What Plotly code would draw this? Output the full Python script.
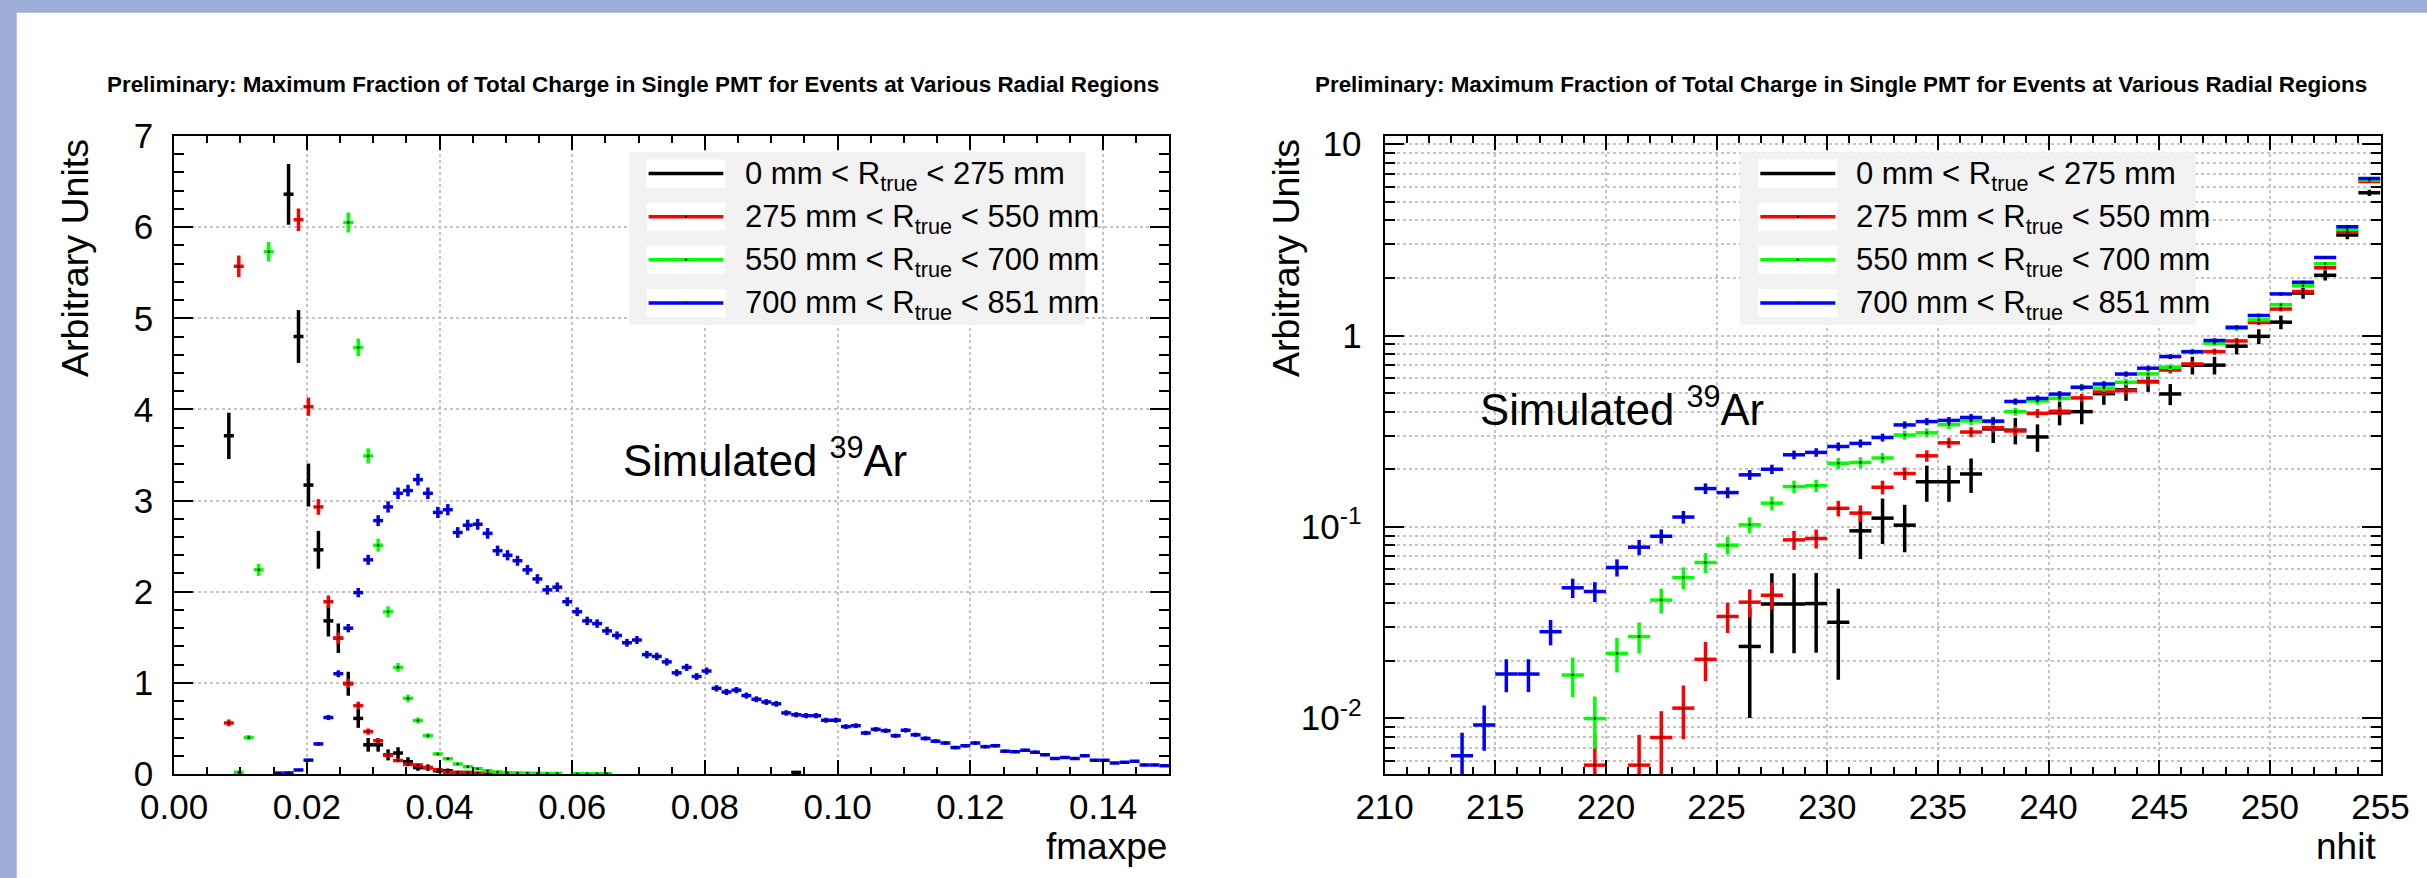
import math
import plotly.graph_objects as go

W, H = 2427, 878
FONT = "Liberation Sans"

# ---------------- data ----------------
series_names = ["black", "red", "green", "blue"]
series_colors = ["#000000", "#ff0000", "#00ff00", "#0000ff"]
radial_lo = [0, 275, 550, 700]
radial_hi = [275, 550, 700, 851]

# Left panel: fmaxpe, 100 bins of width 0.0015 on [0, 0.15]
fmaxpe_bin_width = 0.0015
fmaxpe_centers = [round(0.00075 + fmaxpe_bin_width * i, 5) for i in range(100)]
N = None  # empty bin, or bin above the 0-7 frame

fmaxpe_black = ([N] * 5 + [3.71] + [N] * 5 +
                [6.36, 4.80, 3.17, 2.46, 1.68, 1.49, 0.99, 0.61, 0.32, 0.32,
                 0.21, 0.23, 0.135, 0.07, 0.07, 0.036, 0.035, 0.017, 0.017] +
                [N] * 32 + [0.017] + [N] * 37)
fmaxpe_red = ([N] * 5 + [0.56, 5.57] + [N] * 5 +
              [6.08, 4.03, 2.93, 1.89, 1.49, 0.995, 0.75, 0.465, 0.365, 0.205,
               0.148, 0.105, 0.099, 0.07, 0.048, 0.02, 0.016, 0.013, 0.01, 0.008,
               0.006, 0.004] + [N] * 66)
fmaxpe_green = ([N] * 6 + [0.02, 0.40, 2.24, 5.73] + [N] * 7 +
                [6.05, 4.68, 3.49, 2.51, 1.78, 1.17, 0.83, 0.587, 0.42, 0.22,
                 0.168, 0.11, 0.08, 0.058, 0.036, 0.022, 0.015, 0.012, 0.01, 0.008,
                 0.006, 0.006, N, 0.004, 0.004, 0.004, 0.004] + [N] * 56)
fmaxpe_blue = ([N] * 10 +
               [0.01, 0.012, 0.044, 0.152, 0.33, 0.62, 1.10, 1.60, 1.99, 2.35,
                2.78, 2.93, 3.08, 3.11, 3.23, 3.08, 2.87, 2.90, 2.65, 2.73,
                2.74, 2.64, 2.45, 2.40, 2.34, 2.24, 2.14, 2.02, 2.05, 1.89,
                1.78, 1.68, 1.65, 1.57, 1.52, 1.44, 1.47, 1.31, 1.29, 1.23,
                1.11, 1.17, 1.07, 1.13, 0.94, 0.90, 0.92, 0.86, 0.82, 0.79,
                0.77, 0.67, 0.65, 0.64, 0.64, 0.59, 0.59, 0.52, 0.53, 0.45,
                0.49, 0.475, 0.42, 0.48, 0.43, 0.39, 0.36, 0.34, 0.29, 0.31,
                0.34, 0.30, 0.31, 0.25, 0.245, 0.26, 0.24, 0.21, 0.17, 0.18,
                0.17, 0.20, 0.15, 0.15, 0.12, 0.13, 0.14, 0.10, 0.10, 0.09])
# Poisson weight (units per count) read from the error-bar lengths
fmaxpe_weight = [0.0175, 0.0025, 0.002, 0.0013]

# Right panel: nhit, 45 bins of width 1 on [210, 255]
nhit_bin_width = 1
nhit_centers = [210.5 + i for i in range(45)]
nhit_black = ([N] * 16 +
              [0.0237, 0.0395, 0.0395, 0.0397, 0.0317, 0.0953, 0.111, 0.102, 0.172, 0.172,
               0.189, 0.325, 0.32, 0.295, 0.395, 0.40, 0.497, 0.52, 0.575, 0.495,
               0.70, 0.70, 0.88, 0.99, 1.175, 1.67, 2.065, 3.35, 5.58])
nhit_red = ([N] * 9 + [0.00568, N, 0.00568, 0.00792, 0.01128, 0.0203, 0.0340, 0.0404,
                      0.0439, 0.0855, 0.0869, 0.125, 0.118, 0.161, 0.190, 0.235, 0.275,
                      0.313, 0.33, 0.317, 0.392, 0.402, 0.472, 0.507, 0.515, 0.572, 0.66,
                      0.71, 0.824, 0.937, 1.17, 1.375, 1.70, 2.26, 3.49, 6.38])
nhit_green = ([N] * 8 + [0.0168, 0.00995, 0.0218, 0.0267, 0.0414, 0.0543, 0.0651, 0.0802,
                         0.1024, 0.133, 0.1623, 0.164, 0.215, 0.217, 0.229, 0.302, 0.31,
                         0.342, 0.358, 0.355, 0.40, 0.455, 0.47, 0.537, 0.531, 0.57, 0.63,
                         0.683, 0.825, 0.912, 1.09, 1.207, 1.45, 1.82, 2.37, 3.58, 6.5])
nhit_blue = ([N] * 3 + [0.00635, 0.0092, 0.0170, 0.0170, 0.0283, 0.0480, 0.0459, 0.0613,
                        0.0783, 0.0893, 0.1125, 0.1585, 0.151, 0.187, 0.200, 0.238, 0.245,
                        0.263, 0.273, 0.293, 0.341, 0.355, 0.36, 0.373, 0.357, 0.452, 0.469,
                        0.494, 0.536, 0.558, 0.629, 0.675, 0.776, 0.822, 0.942, 1.105,
                        1.273, 1.65, 1.90, 2.56, 3.70, 6.62])
nhit_weight = [0.0079, 0.0011, 0.00092, 0.00065]

title_text = ("Preliminary: Maximum Fraction of Total Charge in Single PMT "
              "for Events at Various Radial Regions")
left_xtitle = "fmaxpe"
right_xtitle = "nhit"
ytitle = "Arbitrary Units"

# ---------------- helpers ----------------
def P(x):
    return x / W


def Q(y):
    return 1 - y / H


def errs(vals, w):
    return [None if v is None else math.sqrt(v * w) for v in vals]


fig = go.Figure()

left_vals = [fmaxpe_black, fmaxpe_red, fmaxpe_green, fmaxpe_blue]
right_vals = [nhit_black, nhit_red, nhit_green, nhit_blue]

for k in range(4):
    col = series_colors[k]
    fig.add_trace(go.Scatter(
        x=fmaxpe_centers, y=left_vals[k], mode="markers", name=series_names[k],
        marker=dict(size=2.5, color="black"),
        error_y=dict(type="data", array=errs(left_vals[k], fmaxpe_weight[k]),
                     symmetric=True, color=col, thickness=3.5, width=0),
        error_x=dict(type="constant", value=fmaxpe_bin_width / 2, color=col,
                     thickness=3.5, width=0),
        xaxis="x", yaxis="y", showlegend=False, hoverinfo="skip"))
for k in range(4):
    col = series_colors[k]
    fig.add_trace(go.Scatter(
        x=nhit_centers, y=right_vals[k], mode="markers", name=series_names[k],
        marker=dict(size=2.5, color="black"),
        error_y=dict(type="data", array=errs(right_vals[k], nhit_weight[k]),
                     symmetric=True, color=col, thickness=3.5, width=0),
        error_x=dict(type="constant", value=nhit_bin_width / 2, color=col,
                     thickness=3.5, width=0),
        xaxis="x2", yaxis="y2", showlegend=False, hoverinfo="skip"))

GRID = "#c4c4c4"
common = dict(showline=True, linewidth=2, linecolor="black", mirror="ticks",
              ticks="inside", tickwidth=2, tickcolor="black", automargin=False,
              showgrid=True, gridcolor=GRID, gridwidth=1.5, griddash="dot",
              zeroline=False, tickfont=dict(family=FONT, size=35, color="black"))

log_minor = []
for dec in [0.001, 0.01, 0.1, 1]:
    for m in range(2, 10):
        log_minor.append(round(m * dec, 6))

fig.update_layout(
    template="none",
    width=W, height=H, margin=dict(l=0, r=0, t=0, b=0, pad=0, autoexpand=False),
    paper_bgcolor="white", plot_bgcolor="white", showlegend=False,
    font=dict(family=FONT, size=35, color="black"),
    xaxis=dict(domain=[P(174.1), P(1169.4)], range=[0, 0.15], tick0=0, dtick=0.02,
               tickformat=".2f", ticklen=14, anchor="y", ticklabelstandoff=1,
               minor=dict(dtick=0.005, ticklen=7, tickwidth=2, ticks="inside",
                          tickcolor="black", showgrid=False), **common),
    yaxis=dict(domain=[Q(774), Q(136)], range=[0, 7], tick0=0, dtick=1,
               ticklen=19, anchor="x", ticklabelstandoff=12,
               minor=dict(dtick=0.2, ticklen=10, tickwidth=2, ticks="inside",
                          tickcolor="black", showgrid=False), **common),
    xaxis2=dict(domain=[P(1384.6), P(2380.5)], range=[210, 255], tick0=210, dtick=5,
                ticklen=14, anchor="y2", ticklabelstandoff=1,
                minor=dict(dtick=1, ticklen=7, tickwidth=2, ticks="inside",
                           tickcolor="black", showgrid=False), **common),
    yaxis2=dict(domain=[Q(774), Q(136)], type="log", range=[-2.292, 1.043],
                tickmode="array", tickvals=[0.01, 0.1, 1, 10],
                ticktext=["10<sup>-2</sup>", "10<sup>-1</sup>", "1", "10"],
                ticklen=19, anchor="x2", ticklabelstandoff=14,
                minor=dict(tickmode="array", tickvals=log_minor, ticklen=10, tickwidth=2,
                           ticks="inside", tickcolor="black", showgrid=True,
                           gridcolor=GRID, gridwidth=1.5, griddash="dot"), **common),
)

shapes = []
anns = []
# page border (lavender band)
shapes.append(dict(type="rect", xref="paper", yref="paper", x0=0, x1=1, y0=Q(12.7), y1=1,
                   fillcolor="#9dadd8", line=dict(width=0), layer="above"))
shapes.append(dict(type="rect", xref="paper", yref="paper", x0=0, x1=P(16.7), y0=0, y1=1,
                   fillcolor="#9dadd8", line=dict(width=0), layer="above"))

panels = [
    dict(title_x=105, yt_x=75, xt_right=1169, xt_text=left_xtitle,
         box=(628.9, 1085.6), line=(646.6, 725.3), text_x=743, sim=(621, 457)),
    dict(title_x=1313, yt_x=1286, xt_right=2378, xt_text=right_xtitle,
         box=(1740.1, 2195.7), line=(1758.3, 1837.3), text_x=1854, sim=(1478, 406)),
]
row_y = [173.6, 216.7, 259.8, 302.9]

for p in panels:
    anns.append(dict(xref="paper", yref="paper", x=P(p["title_x"]), y=Q(84),
                     xanchor="left", yanchor="middle", showarrow=False,
                     text="<b>" + title_text + "</b>",
                     font=dict(family=FONT, size=22.4, color="black")))
    anns.append(dict(xref="paper", yref="paper", x=P(p["yt_x"]), y=Q(137),
                     xanchor="center", yanchor="top", textangle=-90, showarrow=False,
                     text=ytitle, font=dict(family=FONT, size=37.6, color="black")))
    anns.append(dict(xref="paper", yref="paper", x=P(p["xt_right"]), y=Q(846),
                     xanchor="right", yanchor="middle", showarrow=False,
                     text=p["xt_text"], font=dict(family=FONT, size=37, color="black")))
    anns.append(dict(xref="paper", yref="paper", x=P(p["sim"][0]), y=Q(p["sim"][1]),
                     xanchor="left", yanchor="middle", showarrow=False,
                     text="Simulated <sup>39</sup>Ar",
                     font=dict(family=FONT, size=43.7, color="black")))
    bx0, bx1 = p["box"]
    shapes.append(dict(type="rect", xref="paper", yref="paper", x0=P(bx0), x1=P(bx1),
                       y0=Q(324.7), y1=Q(152.3), fillcolor="#f2f2f2",
                       line=dict(width=0), layer="above"))
    lx0, lx1 = p["line"]
    for k in range(4):
        yy = row_y[k]
        shapes.append(dict(type="rect", xref="paper", yref="paper", x0=P(lx0), x1=P(lx1),
                           y0=Q(yy + 14), y1=Q(yy - 14), fillcolor="white",
                           line=dict(width=0), layer="above"))
        shapes.append(dict(type="line", xref="paper", yref="paper", x0=P(lx0 + 2),
                           x1=P(lx1 - 2), y0=Q(yy), y1=Q(yy),
                           line=dict(color=series_colors[k], width=3.5), layer="above"))
        cx = (lx0 + lx1) / 2
        shapes.append(dict(type="circle", xref="paper", yref="paper", x0=P(cx - 1.2),
                           x1=P(cx + 1.2), y0=Q(yy + 1.2), y1=Q(yy - 1.2),
                           fillcolor="black", line=dict(width=0), layer="above"))
        anns.append(dict(xref="paper", yref="paper", x=P(p["text_x"]), y=Q(yy + 2),
                         xanchor="left", yanchor="middle", showarrow=False,
                         text=f"{radial_lo[k]} mm &lt; R<sub>true</sub> &lt; {radial_hi[k]} mm",
                         font=dict(family=FONT, size=31, color="black")))

fig.update_layout(shapes=shapes, annotations=anns)
fig.write_html(
    "out.html",
    config={"displayModeBar": False},
    post_script=("document.body.style.margin='0';"
                 "document.body.style.overflow='hidden';"
                 "document.documentElement.style.overflow='hidden';"),
)
